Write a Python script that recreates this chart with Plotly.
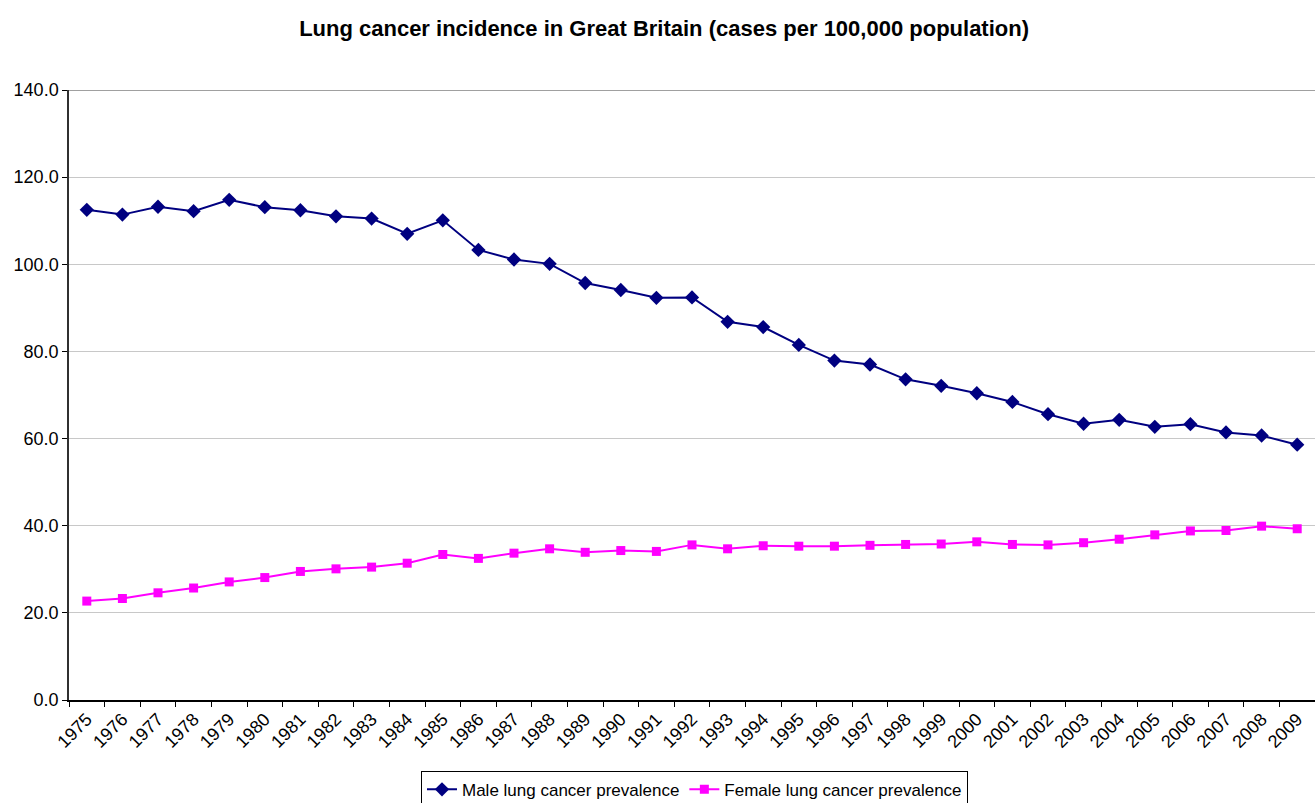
import plotly.graph_objects as go

years = [str(y) for y in range(1975, 2010)]

male_rate = [112.5, 111.4, 113.2, 112.2, 114.8, 113.1, 112.4, 111.0, 110.5, 107.0,
             110.1, 103.3, 101.1, 100.1, 95.7, 94.1, 92.3, 92.4, 86.8, 85.6,
             81.5, 77.9, 77.0, 73.6, 72.1, 70.4, 68.4, 65.6, 63.4, 64.3,
             62.7, 63.3, 61.4, 60.7, 58.6]

female_rate = [22.7, 23.3, 24.6, 25.7, 27.1, 28.1, 29.5, 30.1, 30.5, 31.4,
               33.4, 32.5, 33.7, 34.7, 33.9, 34.3, 34.1, 35.6, 34.7, 35.4,
               35.3, 35.3, 35.5, 35.7, 35.8, 36.3, 35.7, 35.6, 36.1, 36.9,
               37.9, 38.8, 38.9, 39.9, 39.3]

FONT = "Liberation Sans, Arial, sans-serif"

fig = go.Figure()
fig.add_trace(go.Scatter(
    x=years, y=male_rate, mode="lines+markers",
    name="Male lung cancer prevalence",
    line=dict(color="#000080", width=2),
    marker=dict(symbol="diamond", size=11, color="#000080"),
))
fig.add_trace(go.Scatter(
    x=years, y=female_rate, mode="lines+markers",
    name="Female lung cancer prevalence",
    line=dict(color="#FF00FF", width=2),
    marker=dict(symbol="square", size=9, color="#FF00FF"),
))

# darker border line along the top of the plot area
fig.add_shape(type="line", xref="paper", yref="y", x0=0, x1=1, y0=140, y1=140,
              line=dict(color="#808080", width=1.5), layer="below")

fig.update_layout(
    width=1315, height=803,
    margin=dict(l=69, r=0, t=90, b=103, autoexpand=False),
    paper_bgcolor="white", plot_bgcolor="white",
    font=dict(family=FONT, color="black", size=18),
    title=dict(text="<b>Lung cancer incidence in Great Britain (cases per 100,000 population)</b>",
               x=0.505, xanchor="center", y=0.965, yanchor="middle",
               font=dict(size=22, family=FONT, color="black")),
    showlegend=True,
    legend=dict(orientation="h", x=0.502, xanchor="center", y=-0.116, yanchor="top",
                bordercolor="black", borderwidth=1, bgcolor="white",
                font=dict(size=17, family=FONT), itemwidth=30, tracegroupgap=0),
    xaxis=dict(type="category", range=[-0.5, 34.5], tickangle=-45, automargin=False,
               tickson="boundaries", ticks="outside", ticklen=5, tickcolor="black",
               showline=True, linecolor="black", linewidth=1.5,
               showgrid=False, tickfont=dict(size=18, family=FONT)),
    yaxis=dict(range=[0, 140], dtick=20, tickformat=".1f", automargin=False,
               ticks="outside", ticklen=5, tickcolor="black",
               showline=True, linecolor="#303030", linewidth=1.5,
               showgrid=True, gridcolor="#C8C8C8", gridwidth=1,
               zeroline=False, tickfont=dict(size=18, family=FONT)),
)

fig.write_html("out.html")
